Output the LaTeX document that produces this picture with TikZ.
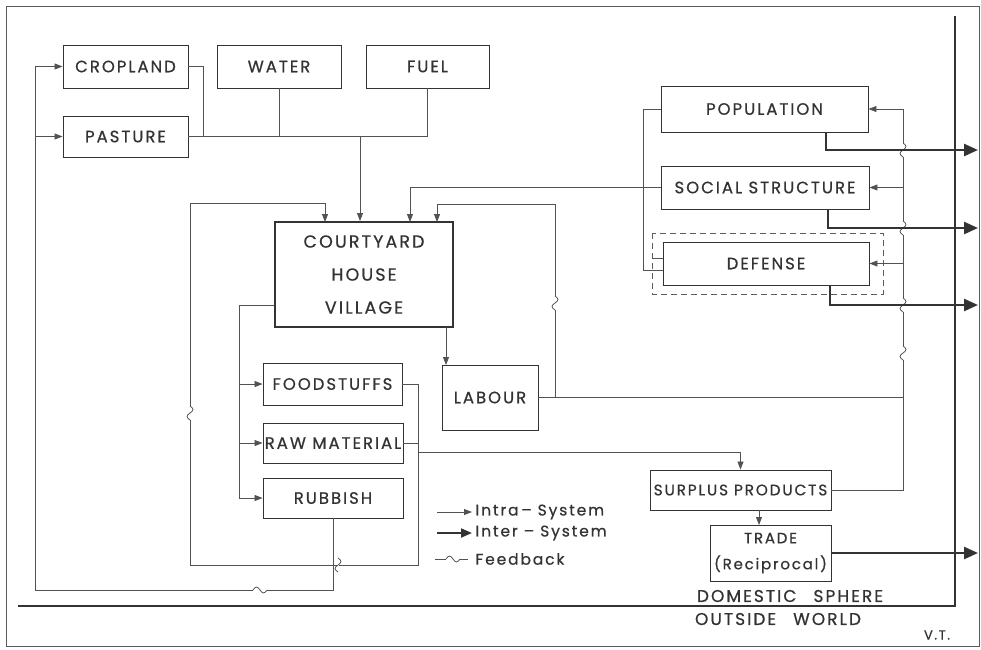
\documentclass[tikz,border=0pt]{standalone}
\usepackage{fontspec}
\setmainfont{Poppins}[LetterSpace=12,FakeBold=0.6]
\usetikzlibrary{arrows.meta}
\usetikzlibrary{calc}
\definecolor{ink}{HTML}{333333}
\tikzset{
  box/.style={draw=ink,line width=0.9pt,inner sep=0pt,text=ink,font=\fontsize{16.5}{18}\selectfont},
  wire/.style={draw=ink!85,line width=0.8pt},
  intra/.style={wire,-{Triangle[length=8pt,width=6pt]}},
  inter/.style={draw=ink,line width=2.4pt,-{Triangle[length=14pt,width=12pt]}},
  bound/.style={draw=ink,line width=2.4pt},
  fbwave/.pic={\fill[white] (-7,-1.2) rectangle (7,1.2);
    \draw[wire] (-7,0) sin (-3.5,-3) cos (0,0) sin (3.5,3) cos (7,0);},
  lbl/.style={text=ink,font=\fontsize{15.5}{18}\selectfont}
}
\begin{document}
\begin{tikzpicture}[x=1pt,y=-1pt]
    \useasboundingbox (0,0) rectangle (981,649);
    \draw[ink!80,line width=1pt] (6,6) rectangle (979,646);
    % resources
    \node[box,minimum width=125,minimum height=43] (crop) at (125.5,66.5) {CROPLAND};
    \node[box,minimum width=124,minimum height=43] (water) at (279,66.5) {WATER};
    \node[box,minimum width=123,minimum height=43] (fuel) at (427.5,66.5) {FUEL};
    \node[box,minimum width=125,minimum height=41] (past) at (125.5,136.5) {PASTURE};
    \node[box,line width=2pt,minimum width=178,minimum height=105,align=center,
          font=\fontsize{17.5}{33}\selectfont] (cyv) at (364,274.5) {COURTYARD\\HOUSE\\VILLAGE};
    \node[box,minimum width=139,minimum height=42] (food) at (332.5,384) {FOODSTUFFS};
    \node[box,minimum width=140,minimum height=40] (raw) at (333,443) {RAW MATERIAL};
    \node[box,minimum width=140,minimum height=40] (rub) at (333,498) {RUBBISH};
    \node[box,minimum width=96,minimum height=65] (lab) at (490,397.5) {LABOUR};
    % society
    \node[box,minimum width=207,minimum height=46] (pop) at (764.5,109) {POPULATION};
    \node[box,minimum width=208,minimum height=43] (soc) at (765,187.5) {SOCIAL STRUCTURE};
    \node[box,minimum width=206,minimum height=43] (def) at (766,263.5) {DEFENSE};
    \draw[ink!80,line width=0.8pt,dashed,dash pattern=on 6pt off 4pt] (652,233) rectangle (883,294);
    \node[box,minimum width=181,minimum height=40,font=\fontsize{15.3}{18}\selectfont] (surp) at (740.5,490) {SURPLUS PRODUCTS};
    \node[box,minimum width=121,minimum height=56,align=center,
          font=\fontsize{15}{26}\selectfont] (trade) at (770.5,553) {TRADE\\(Reciprocal)};
    % junctions
    \coordinate (jres) at (360,136.5);
    \coordinate (loopr) at (418,565);
    \coordinate (loopl) at (190,565);
    \coordinate (lfb) at (35,590);
    \coordinate (sp) at (239,305);
    \coordinate (labj) at (555,397.5);
    \coordinate (rfb) at (903,109);
    % resources into the village
    \draw[wire] (crop.east) -| (203,136.5);
    \draw[wire] (past.east) -| (fuel.south);
    \draw[wire] (water.south) -- (water.south |- past.east);
    \draw[intra] (jres) -- (jres |- cyv.north);
    % village outputs
    \draw[intra] (cyv.west |- sp) -- (sp) |- (rub.west);
    \draw[intra] (sp |- food.west) -- (food.west);
    \draw[intra] (sp |- raw.west) -- (raw.west);
    \draw[intra] (446,327) -- (446,365);
    % inner loop
    \draw[intra] (food.east) -| (loopr) -- (loopl) |- (325,203) -- (325,222);
    \draw[wire] (raw.east) -- (raw.east -| loopr);
    \draw[intra] (418,452) -| (surp.north);
    % outer loop to land
    \draw[intra] (rub.south) -- (rub.south |- lfb) -- (lfb) |- (crop.west);
    \draw[intra] (lfb |- past.west) -- (past.west);
    % labour loop
    \draw[intra] (labj) |- (437,204) -- (437,222);
    \draw[wire] (lab.east) -- (lab.east -| rfb);
    % social links
    \draw[intra] (soc.west) -| (410,222);
    \draw[wire] (pop.west) -| (643,270) -- (663,270);
    \draw[wire] (652,258) -- (663,258);
    \draw[intra] (surp.east) -| (rfb) -- (pop.east);
    \draw[intra] (rfb |- soc.east) -- (soc.east);
    \draw[intra] (rfb |- def.east) -- (def.east);
    \draw[intra] (759,510) -- (759,525);
    % feedback marks
    \foreach \fx/\fy in {190/413,338/565,555/303,903/150,903/228,903/305,903/353}
        \pic[rotate=90] at (\fx,\fy) {fbwave};
    \pic at (260,590) {fbwave};
    % inter-system
    \draw[bound] (955,16) -- (955,606) -- (18,606);
    \draw[inter] (826,132) |- (978,150);
    \draw[inter] (828,209) |- (978,228);
    \draw[inter] (830,285) |- (978,305);
    \draw[inter] (trade.east) -- (978,553);
    % legend
    \draw[intra] (437,512) -- (472,512);
    \node[lbl,anchor=west] (lgintra) at (472,512) {Intra\,– System};
    \draw[inter,line width=2pt,-{Triangle[length=11pt,width=9pt]}] (437,533) -- (472,533);
    \node[lbl,anchor=west] (lginter) at (472,533) {Inter – System};
    \pic at (453,559) {fbwave};
    \draw[wire] (435,559) -- (446,559) (460,559) -- (468,559);
    \node[lbl,anchor=west] (lgfb) at (472,559) {Feedback};
    % spheres
    \node[lbl,font=\fontsize{17}{18}\selectfont] (dom) at (790,596) {DOMESTIC\quad SPHERE};
    \node[lbl,font=\fontsize{17}{18}\selectfont] (out) at (778,619) {OUTSIDE\quad WORLD};
    \node[lbl,font=\fontsize{13}{14}\selectfont] (vt) at (937,635) {V.T.};
\end{tikzpicture}
\end{document}
